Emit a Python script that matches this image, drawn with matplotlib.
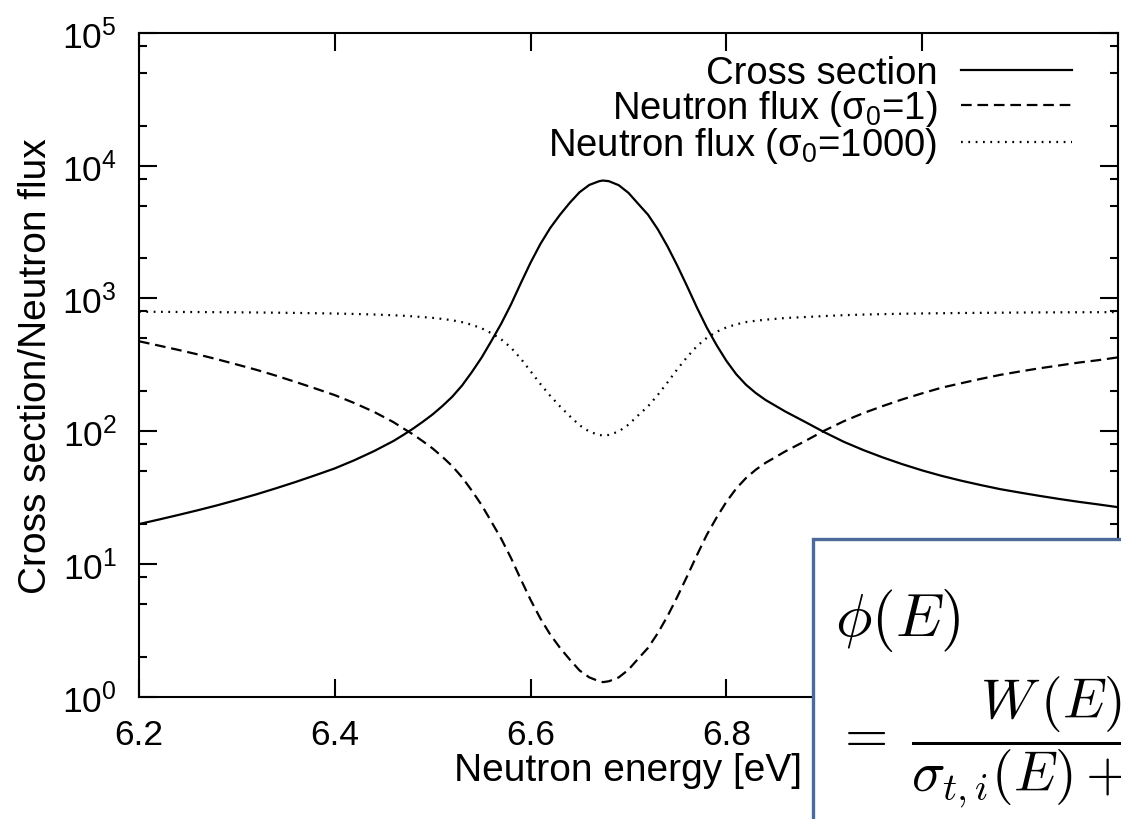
import matplotlib
matplotlib.use('Agg')
import matplotlib.pyplot as plt
from matplotlib.ticker import LogLocator, NullFormatter, FixedLocator
from matplotlib.patches import Rectangle

plt.rcParams['font.family'] = ['Liberation Sans', 'DejaVu Sans']

# neutron energy [eV]
energy = [6.20, 6.22, 6.24, 6.26, 6.28, 6.30, 6.32, 6.34, 6.36, 6.38,
          6.40, 6.42, 6.44, 6.46, 6.47, 6.48, 6.49, 6.50, 6.51, 6.52,
          6.53, 6.54, 6.55, 6.56, 6.57, 6.58, 6.59, 6.60, 6.61, 6.62,
          6.63, 6.64, 6.65, 6.66, 6.67, 6.674, 6.68, 6.69, 6.70, 6.71,
          6.72, 6.73, 6.74, 6.75, 6.76, 6.77, 6.78, 6.79, 6.80, 6.81,
          6.82, 6.83, 6.84, 6.86, 6.88, 6.90, 6.92, 6.94, 6.96, 6.98,
          7.00, 7.02, 7.04, 7.06, 7.08, 7.10, 7.12, 7.14, 7.16, 7.18,
          7.20]

cross_section = [20.0, 21.6, 23.4, 25.4, 27.7, 30.4, 33.5, 37.2, 41.5, 46.6,
                 52.5, 60.5, 70.8, 84.5, 93.8, 104.7, 118, 134, 155, 182,
                 221, 279, 359, 479, 646, 902, 1303, 1862, 2570, 3388,
                 4266, 5248, 6310, 7161, 7638, 7727, 7638, 7129, 6237, 5152,
                 4266, 3311, 2455, 1758, 1230, 851, 603, 445, 339, 269,
                 224, 194, 172, 141, 118, 98.4, 83.2, 72.1, 63.4, 56.4,
                 50.7, 46.1, 42.4, 39.3, 36.6, 34.5, 32.6, 30.9, 29.4, 28.1,
                 26.8]

flux_s1 = [476, 442, 410, 379, 348, 318, 290, 262, 235, 210,
           187, 163, 140, 117, 105, 94.6, 84.0, 74.1, 64.1, 54.6,
           45.0, 35.7, 27.8, 20.8, 15.5, 11.1, 7.67, 5.37, 3.89, 2.95,
           2.34, 1.91, 1.58, 1.40, 1.31, 1.29, 1.31, 1.40, 1.60, 1.94,
           2.34, 3.02, 4.07, 5.69, 8.12, 11.7, 16.6, 22.4, 29.4, 37.0,
           44.4, 51.3, 57.8, 70.4, 84.0, 101, 119, 137, 155, 174,
           193, 213, 230, 248, 266, 282, 298, 313, 329, 343,
           360]

flux_s1000 = [794, 793, 791, 790, 788, 786, 784, 781, 778, 774,
              770, 764, 757, 747, 741, 733, 724, 714, 701, 685,
              663, 633, 596, 547, 492, 426, 352, 283, 227, 185,
              154, 130, 111, 99.3, 93.8, 92.8, 93.8, 99.6, 112, 132,
              154, 188, 234, 294, 363, 438, 505, 561, 605, 638,
              664, 679, 692, 712, 724, 737, 748, 756, 762, 767,
              771, 774, 777, 779, 781, 783, 785, 786, 787, 788,
              789]

x_ticks = [6.2, 6.4, 6.6, 6.8, 7.0, 7.2]
# labels at 7.0 and 7.2 sit under the formula box
x_tick_labels = ['6.2', '6.4', '6.6', '6.8', '', '']

fig = plt.figure(figsize=(11.21, 8.2), dpi=100)
ax = fig.add_axes([0.124, 0.149, 0.8733, 0.8097])

ax.plot(energy, cross_section, color='black', lw=1.6, label='Cross section')
ax.plot(energy, flux_s1, color='black', lw=1.6, dashes=(4.8, 2.6),
        label=r'Neutron flux ($\mathdefault{σ_0}$=1)')
ax.plot(energy, flux_s1000, color='black', lw=1.6, dashes=(0.8, 2.5),
        label=r'Neutron flux ($\mathdefault{σ_0}$=1000)')

ax.set_yscale('log')
ax.set_xlim(6.2, 7.2)
ax.set_ylim(1, 1e5)
ax.xaxis.set_major_locator(FixedLocator(x_ticks))
ax.set_xticklabels(x_tick_labels)
ax.yaxis.set_major_locator(LogLocator(base=10, numticks=10))
ax.yaxis.set_minor_locator(LogLocator(base=10, subs=(2, 5, 8), numticks=10))
ax.yaxis.set_minor_formatter(NullFormatter())

for s in ax.spines.values():
    s.set_linewidth(1.5)
ax.tick_params(which='both', direction='in', top=True, right=True, width=1.5,
               labelsize=25.5)
ax.tick_params(which='major', length=13)
ax.tick_params(which='minor', length=6)
ax.tick_params(axis='y', pad=16)
ax.tick_params(axis='x', pad=15)

ax.set_xlabel('Neutron energy [eV]', fontsize=28, labelpad=1)
ax.set_ylabel('Cross section/Neutron flux', fontsize=28, labelpad=6)

ax.legend(loc='upper right', bbox_to_anchor=(0.953, 0.966), markerfirst=False,
          frameon=False, fontsize=27.5, handlelength=2.9, handletextpad=0.62,
          labelspacing=-0.08, borderaxespad=0, borderpad=0)

# formula box overlapping the lower right corner
box = Rectangle((0.725, -0.02), 0.3, 0.361, transform=fig.transFigure,
                facecolor='white', edgecolor='#4a6a9a', lw=2.4, zorder=10)
fig.add_artist(box)
fig.text(0.745, 0.243, r'$\phi(E)$', fontsize=44, math_fontfamily='cm',
         ha='left', va='center', zorder=11)
fig.text(0.745, 0.094, r'$=\;\dfrac{W\,(E)}{\sigma_{t,i}(E)+\sigma_{0}}$',
         fontsize=40, math_fontfamily='cm', ha='left', va='center', zorder=11)

fig.savefig('out.png', dpi=100)
